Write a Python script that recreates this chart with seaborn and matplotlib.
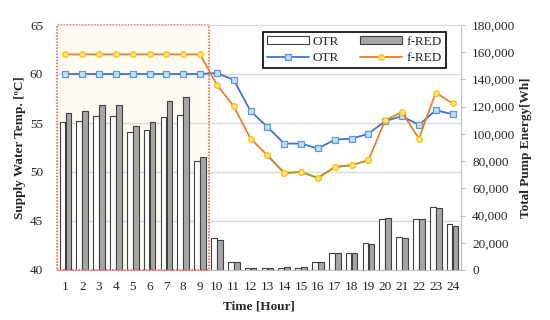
import matplotlib
matplotlib.use("Agg")
import matplotlib.pyplot as plt
from matplotlib.patches import Patch, Rectangle
from matplotlib.lines import Line2D
from matplotlib.ticker import FuncFormatter
import seaborn as sns
import pandas as pd

# ---------------- data ----------------
hours = [1, 2, 3, 4, 5, 6, 7, 8, 9, 10, 11, 12, 13, 14, 15, 16, 17, 18, 19, 20, 21, 22, 23, 24]

otr_energy = [108500, 109700, 113400, 112900, 101200, 102900, 112200, 113900, 80100, 23700,
              5700, 1700, 1700, 1700, 1700, 5900, 12300, 12300, 19700, 37800,
              24200, 37300, 46400, 34100]
fred_energy = [115600, 117000, 121200, 121200, 106000, 108500, 124400, 127300, 82800, 22000,
               5700, 1700, 1700, 2200, 2200, 5900, 12300, 12300, 19000, 38200,
               23700, 37800, 45700, 32400]

otr_temp = [60.0, 60.0, 60.0, 60.0, 60.0, 60.0, 60.0, 60.0, 60.0, 60.1,
            59.4, 56.2, 54.6, 52.9, 52.9, 52.4, 53.3, 53.4, 53.9, 55.2,
            55.7, 54.8, 56.3, 55.9]
fred_temp = [62.0, 62.0, 62.0, 62.0, 62.0, 62.0, 62.0, 62.0, 62.0, 58.9,
             56.7, 53.4, 51.7, 49.9, 50.0, 49.4, 50.5, 50.7, 51.2, 55.3,
             56.1, 53.4, 58.1, 57.0]

series = ["OTR", "f-RED"]
temp_ticks = [40, 45, 50, 55, 60, 65]
energy_ticks = [0, 20000, 40000, 60000, 80000, 100000, 120000, 140000, 160000, 180000]
olive_hours = [13, 14, 15, 16, 17, 18, 19]

# ---------------- style ----------------
sns.set_style("white")
plt.rcParams["font.family"] = ["Liberation Serif", "DejaVu Serif"]
plt.rcParams["font.size"] = 9.5

fig = plt.figure(figsize=(5.5, 3.2), dpi=100)
ax_e = fig.add_axes([57 / 550, 50 / 320, 404 / 550, 245 / 320])
ax_t = ax_e.twinx()

# energy axis (bars) -> right side
df_e = pd.DataFrame({
    "hour": hours * 2,
    "energy": otr_energy + fred_energy,
    "series": [series[0]] * len(hours) + [series[1]] * len(hours),
})
ax_e.axvspan(0.5, 9.5, color="#FFFAF2", zorder=0, lw=0)
ax_e.add_patch(Rectangle((0.5, 0), 9.0, 180000, fill=False, edgecolor="#F0504A",
                         linestyle=(0, (1, 1)), linewidth=1.1, zorder=4, clip_on=False))
sns.barplot(data=df_e, x="hour", y="energy", hue="series", native_scale=True,
            palette={"OTR": "white", "f-RED": "#A6A6A6"}, edgecolor="#404040",
            linewidth=0.8, width=0.7, gap=0.04, legend=False, ax=ax_e, zorder=3)

ax_e.set_xlim(0.5, 24.5)
ax_e.set_ylim(0, 180000)
ax_e.set_yticks(energy_ticks)
ax_e.yaxis.set_major_formatter(FuncFormatter(lambda v, p: f"{int(v):,}"))
ax_e.yaxis.tick_right()
ax_e.yaxis.set_label_position("right")
ax_e.set_ylabel("Total Pump Energy[Wh]", fontweight="bold", labelpad=3)
ax_e.set_xlabel("Time [Hour]", fontweight="bold", labelpad=5)
ax_e.set_xticks(hours)
ax_e.set_xticklabels([str(h) for h in hours])
ax_e.tick_params(axis="x", length=0, pad=8)
ax_e.tick_params(axis="y", which="major", length=3, color="#BFBFBF", pad=5, right=True, left=False)

# grid lines at temperature tick positions, behind bars
grid_e = [(t - temp_ticks[0]) / (temp_ticks[-1] - temp_ticks[0]) * energy_ticks[-1] for t in temp_ticks[1:]]
ax_e.set_yticks(grid_e, minor=True)
ax_e.tick_params(axis="y", which="minor", length=0)
ax_e.grid(axis="y", which="minor", color="#D9D9D9", linewidth=1.0)
ax_e.grid(axis="y", which="major", visible=False)
ax_e.set_axisbelow(True)

for side in ["left", "top"]:
    ax_e.spines[side].set_visible(False)
ax_e.spines["right"].set_color("#BFBFBF")
ax_e.spines["bottom"].set_color("#BFBFBF")

# temperature axis (lines) -> left side
df_t = pd.DataFrame({"hour": hours, "OTR": otr_temp, "f-RED": fred_temp})
mk = dict(markersize=4, markeredgewidth=0.9)
sns.lineplot(data=df_t, x="hour", y="OTR", color="#4472C4", linewidth=1.3,
             marker="s", markerfacecolor="#C9DDF2", markeredgecolor="#5B9BD5",
             ax=ax_t, zorder=5, **mk)
sns.lineplot(data=df_t, x="hour", y="f-RED", color="#ED7D31", linewidth=1.3,
             marker="o", markerfacecolor="#FFE699", markeredgecolor="#FFC000",
             ax=ax_t, zorder=6, **mk)
df_o = df_t[df_t["hour"].isin(olive_hours)]
sns.lineplot(data=df_o, x="hour", y="f-RED", color="#A89B3C", linewidth=1.3,
             marker="o", markerfacecolor="#FFE699", markeredgecolor="#FFC000",
             ax=ax_t, zorder=7, **mk)

ax_t.set_ylim(40, 65)
ax_t.set_yticks(temp_ticks)
ax_t.yaxis.tick_left()
ax_t.yaxis.set_label_position("left")
ax_t.set_ylabel("Supply Water Temp. [ºC]", fontweight="bold", labelpad=3)
ax_t.tick_params(axis="y", length=0, pad=10)
ax_t.set_xlabel("")
for s in ax_t.spines.values():
    s.set_visible(False)
ax_t.spines["top"].set_visible(True)
ax_t.spines["top"].set_color("#D9D9D9")

handles = [
    Patch(facecolor="white", edgecolor="#404040", linewidth=0.8),
    Line2D([], [], color="#4472C4", lw=1.3, marker="s", markersize=4,
           markerfacecolor="#C9DDF2", markeredgecolor="#5B9BD5"),
    Patch(facecolor="#A6A6A6", edgecolor="#404040", linewidth=0.8),
    Line2D([], [], color="#ED7D31", lw=1.3, marker="o", markersize=4,
           markerfacecolor="#FFE699", markeredgecolor="#FFC000"),
]
labels = ["OTR", "OTR", "f-RED", "f-RED"]
leg = ax_t.legend(handles, labels, ncol=2, loc="upper right", bbox_to_anchor=(0.978, 1.0),
                  frameon=True, fancybox=False, edgecolor="black", framealpha=1,
                  handlelength=3.2, handleheight=0.55, columnspacing=1.6, handletextpad=0.3,
                  borderpad=0.3, labelspacing=0.35, fontsize=9.5)
leg.get_frame().set_linewidth(1.2)

fig.savefig("out.png", dpi=100)
